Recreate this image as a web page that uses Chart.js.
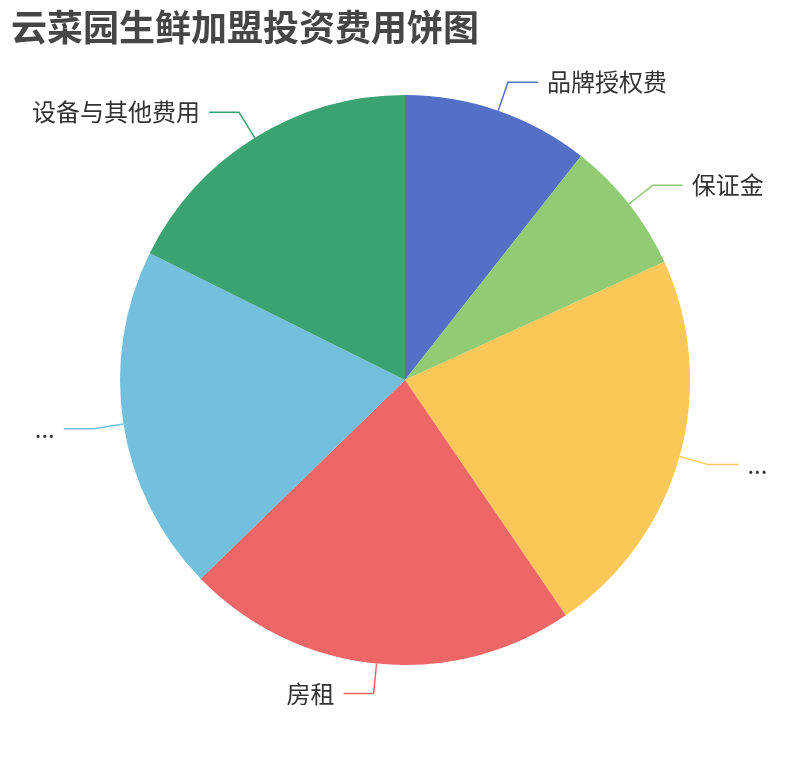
<!DOCTYPE html>
<html>
<head>
<meta charset="utf-8">
<script src="https://cdn.jsdelivr.net/npm/chart.js@4"></script>
<style>
  body { margin: 0; background: #fff; }
  #wrap { position: relative; width: 810px; height: 760px; }
  #title {
    position: absolute; left: 11px; top: 3px; margin: 0;
    font: bold 36px "Noto Sans CJK SC", sans-serif; color: #464646;
    line-height: 44px;
  }
</style>
</head>
<body>
<div id="wrap">
  <h1 id="title">云菜园生鲜加盟投资费用饼图</h1>
  <canvas id="pie" width="810" height="760"></canvas>
</div>
<script>
// slices clockwise from the top; two labels are cut to "..." in the picture
const categories = ["品牌授权费", "保证金", "...", "房租", "...", "设备与其他费用"];
const values = [6, 4.3, 12.6, 12.6, 11.1, 10];
const colors = ["#5470c6", "#91cc75", "#fac858", "#ee6666", "#73c0de", "#3ba272"];

// leader lines + labels, echarts style
const outsideLabels = {
  id: "outsideLabels",
  afterDatasetsDraw(chart) {
    const ctx = chart.ctx;
    const meta = chart.getDatasetMeta(0);
    ctx.save();
    ctx.font = '24px "Noto Sans CJK SC", sans-serif';
    ctx.textBaseline = "middle";
    meta.data.forEach((arc, i) => {
      const { x, y, startAngle, endAngle, outerRadius } = arc.getProps(
        ["x", "y", "startAngle", "endAngle", "outerRadius"], true);
      const mid = (startAngle + endAngle) / 2;
      const cos = Math.cos(mid), sin = Math.sin(mid);
      const x0 = x + outerRadius * cos, y0 = y + outerRadius * sin;
      const x1 = x + (outerRadius + 30) * cos, y1 = y + (outerRadius + 30) * sin;
      const dir = cos >= 0 ? 1 : -1;
      const x2 = x1 + dir * 30;
      ctx.strokeStyle = colors[i];
      ctx.lineWidth = 1.5;
      ctx.beginPath();
      ctx.moveTo(x0, y0);
      ctx.lineTo(x1, y1);
      ctx.lineTo(x2, y1);
      ctx.stroke();
      ctx.fillStyle = "#333";
      ctx.textAlign = dir > 0 ? "left" : "right";
      ctx.fillText(categories[i], x2 + dir * 9, y1);
    });
    ctx.restore();
  }
};

new Chart(document.getElementById("pie"), {
  type: "pie",
  data: {
    labels: categories,
    datasets: [{
      data: values,
      backgroundColor: colors,
      borderWidth: 0
    }]
  },
  options: {
    responsive: false,
    animation: false,
    layout: { padding: { top: 95, bottom: 95, left: 0, right: 0 } },
    plugins: {
      legend: { display: false },
      tooltip: { enabled: false },
      title: { display: false }
    }
  },
  plugins: [outsideLabels]
});
</script>
</body>
</html>
